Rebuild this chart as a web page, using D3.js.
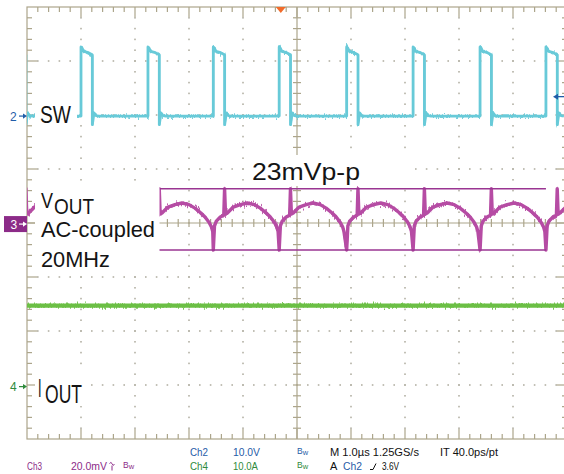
<!DOCTYPE html>
<html>
<head>
<meta charset="utf-8">
<script src="https://cdn.jsdelivr.net/npm/d3@7"></script>
<style>
  html, body { margin: 0; padding: 0; background: #fff; }
  svg { display: block; }
  text { font-family: "Liberation Sans Narrow", "Liberation Sans", Arial, sans-serif; }
</style>
</head>
<body>
<div id="scope"></div>
<script>
// SW rising edges (us from left of screen); the VOUT dips sit on the same instants
const riseTimes = [-0.23, 1.00, 2.24, 3.45, 4.67, 5.92, 7.15, 8.39, 9.61];

// one SW pulse, time relative to its rising edge (us) and volts
const swPulseT = [-0.03, 0.000, 0.000, 0.02, 0.05, 0.12, 0.20, 0.21, 0.21, 0.24, 0.28, 0.33];
const swPulseV = [0.0, 0.0, 12.8, 12.6, 12.0, 11.8, 11.4, 11.3, -1.6, 0.6, 0.1, 0.0];

// one VOUT ripple period, time relative to the dip (us) and mV (AC-coupled)
const voutT  = [0.000, 0.022, 0.056, 0.13, 0.194, 0.209, 0.226, 0.26, 0.37, 0.50, 0.63, 0.76, 0.87, 0.98, 1.056, 1.13, 1.176, 1.20];
const voutMv = [-9.6, -0.7, 1.1, 2.6, 3.3, 13.1, 3.7, 4.1, 6.3, 7.2, 7.8, 7.2, 5.9, 4.1, 2.6, 0.7, -1.1, -2.8];

// IOUT stays flat
const ioutT = [0, 10];
const ioutA = [15.0, 15.0];

// ripple envelope markers (mV) and where they run (us)
const rippleLevels = [13.1, -9.6];
const rippleSpan = [2.2, 9.61];

// trigger: position (us) and level on Ch2 (V)
const triggerTime = 4.70;
const triggerLevel = 3.6;

// channel scale (units per division) and ground marker position (divisions)
const ch2 = { perDiv: 10, offset: 1.98 };
const ch3 = { perDiv: 20, offset: -0.02 };
const ch4 = { perDiv: 10, offset: -3.03 };

const W = 564, H = 474;
const x = d3.scaleLinear().domain([0, 10]).range([27, 567]);
const y = d3.scaleLinear().domain([-4, 4]).range([439, 7]);
const yCh = (ch) => (v) => y(v / ch.perDiv + ch.offset);

const svg = d3.select("#scope").append("svg")
  .attr("width", W).attr("height", H);

const defs = svg.append("defs");
defs.append("clipPath").attr("id", "plot")
  .append("rect").attr("x", x(0)).attr("y", y(4))
  .attr("width", x(10) - x(0)).attr("height", y(-4) - y(4));

// small vertical jitter so the traces look like sampled scope data
function fuzz(id, scale, seed) {
  const f = defs.append("filter").attr("id", id)
    .attr("filterUnits", "userSpaceOnUse")
    .attr("x", 0).attr("y", 0).attr("width", W).attr("height", H)
    .attr("color-interpolation-filters", "sRGB");
  f.append("feTurbulence").attr("type", "fractalNoise")
    .attr("baseFrequency", "1.1 0.08").attr("numOctaves", 2)
    .attr("seed", seed).attr("result", "n");
  f.append("feColorMatrix").attr("in", "n").attr("type", "matrix")
    .attr("values", "0 0 0 0 0.5  0 1 0 0 0  0 0 0 0 0  0 0 0 0 1")
    .attr("result", "m");
  f.append("feDisplacementMap").attr("in", "SourceGraphic").attr("in2", "m")
    .attr("scale", scale).attr("xChannelSelector", "R").attr("yChannelSelector", "G");
}
fuzz("fz2", 9, 3);
fuzz("fz3", 13, 7);
fuzz("fz4", 10, 11);

// ---------- graticule ----------
const frameCol = "#aca58b";
const dotCol = "#b3b1a5";
const grid = svg.append("g");
const minorT = d3.range(0, 51).map((i) => i / 5);
const minorD = d3.range(-20, 21).map((i) => i / 5);

// dotted division lines
[-3, -2, -1, 1, 2, 3].forEach((d) => {
  grid.append("g").selectAll("rect")
    .data(minorT.slice(1, -1)).join("rect")
    .attr("x", (t) => x(t) - 0.8).attr("y", y(d) - 0.8)
    .attr("width", 1.6).attr("height", 1.6).attr("fill", dotCol);
});
[1, 2, 3, 4, 6, 7, 8, 9].forEach((t) => {
  grid.append("g").selectAll("rect")
    .data(minorD.slice(1, -1)).join("rect")
    .attr("x", x(t) - 0.8).attr("y", (d) => y(d) - 0.8)
    .attr("width", 1.6).attr("height", 1.6).attr("fill", dotCol);
});

// outer frame with ticks
grid.append("rect").attr("x", x(0)).attr("y", y(4))
  .attr("width", x(10) - x(0)).attr("height", y(-4) - y(4))
  .attr("fill", "none").attr("stroke", frameCol).attr("stroke-width", 1.2);
const isMajor = (v) => Math.abs(v - Math.round(v)) < 1e-6;
const tickLen = (v) => (isMajor(v) ? 10 : 5);
grid.append("g").selectAll("line").data(minorT.slice(1, -1)).join("line")
  .attr("x1", (t) => x(t)).attr("x2", (t) => x(t))
  .attr("y1", y(4)).attr("y2", (t) => y(4) + tickLen(t))
  .attr("stroke", frameCol).attr("stroke-width", 1.2);
grid.append("g").selectAll("line").data(minorT.slice(1, -1)).join("line")
  .attr("x1", (t) => x(t)).attr("x2", (t) => x(t))
  .attr("y1", y(-4)).attr("y2", (t) => y(-4) - tickLen(t))
  .attr("stroke", frameCol).attr("stroke-width", 1.2);
grid.append("g").selectAll("line").data(minorD.slice(1, -1)).join("line")
  .attr("x1", x(0)).attr("x2", (d) => x(0) + tickLen(d))
  .attr("y1", (d) => y(d)).attr("y2", (d) => y(d))
  .attr("stroke", frameCol).attr("stroke-width", 1.2);
grid.append("g").selectAll("line").data(minorD.slice(1, -1)).join("line")
  .attr("x1", x(10)).attr("x2", (d) => x(10) - tickLen(d))
  .attr("y1", (d) => y(d)).attr("y2", (d) => y(d))
  .attr("stroke", frameCol).attr("stroke-width", 1.2);

// centre cross with ticks on both sides
grid.append("line").attr("x1", x(5)).attr("x2", x(5)).attr("y1", y(4)).attr("y2", y(-4))
  .attr("stroke", frameCol).attr("stroke-width", 1.2);
grid.append("line").attr("x1", x(0)).attr("x2", x(10)).attr("y1", y(0)).attr("y2", y(0))
  .attr("stroke", frameCol).attr("stroke-width", 1.2);
grid.append("g").selectAll("line").data(minorD.slice(1, -1)).join("line")
  .attr("x1", x(5) - 4).attr("x2", x(5) + 4)
  .attr("y1", (d) => y(d)).attr("y2", (d) => y(d))
  .attr("stroke", frameCol).attr("stroke-width", 1.2);
grid.append("g").selectAll("line").data(minorT.slice(1, -1)).join("line")
  .attr("x1", (t) => x(t)).attr("x2", (t) => x(t))
  .attr("y1", y(0) - 4).attr("y2", y(0) + 4)
  .attr("stroke", frameCol).attr("stroke-width", 1.2);

// ---------- traces ----------
const swPts = [];
riseTimes.forEach((r) => swPulseT.forEach((t, i) => swPts.push([r + t, swPulseV[i]])));
const voutPts = [];
riseTimes.forEach((r) => voutT.forEach((t, i) => voutPts.push([r + t, voutMv[i]])));
const ioutPts = ioutT.map((t, i) => [t, ioutA[i]]);

const traces = svg.append("g").attr("clip-path", "url(#plot)");

// solid core plus a jittered copy on top for the noisy band
function trace(pts, yf, col, w, fid, fw) {
  const d = d3.line().x((p) => x(p[0])).y((p) => yf(p[1]))(pts);
  traces.append("path").attr("d", d)
    .attr("fill", "none").attr("stroke", col).attr("stroke-width", w)
    .attr("stroke-linejoin", "round");
  traces.append("g").attr("filter", `url(#${fid})`)
    .append("path").attr("d", d)
    .attr("fill", "none").attr("stroke", col).attr("stroke-width", fw)
    .attr("stroke-linejoin", "round").attr("opacity", 0.9);
}
trace(ioutPts, yCh(ch4), "#6cbf45", 4.2, "fz4", 2.2);
trace(voutPts, yCh(ch3), "#b64ca4", 3.4, "fz3", 1.8);
trace(swPts, yCh(ch2), "#68cad8", 2.8, "fz2", 1.8);

// ripple envelope
const y3 = yCh(ch3);
svg.append("g").selectAll("line").data(rippleLevels).join("line")
  .attr("x1", x(rippleSpan[0])).attr("x2", x(rippleSpan[1]))
  .attr("y1", (v) => y3(v)).attr("y2", (v) => y3(v))
  .attr("stroke", "#9a3592").attr("stroke-width", 1.6);

// ---------- labels (white backed, like the scope annotations) ----------
const boxes = [[35, 100, 42, 30], [35, 183, 124.5, 88], [35, 368, 53, 38], [244, 155, 166, 31]];
svg.append("g").selectAll("rect").data(boxes).join("rect")
  .attr("x", (b) => b[0]).attr("y", (b) => b[1])
  .attr("width", (b) => b[2]).attr("height", (b) => b[3]).attr("fill", "#fff");

function label(s, px, py, size, len) {
  const t = svg.append("text").attr("x", px).attr("y", py)
    .attr("font-size", size).attr("fill", "#141414").text(s);
  if (len) t.attr("textLength", len).attr("lengthAdjust", "spacingAndGlyphs");
  return t;
}
function subLabel(main, sub, px, py, size, mainLen, subLen, gap, drop) {
  const t = svg.append("text").attr("x", px).attr("y", py)
    .attr("font-size", size).attr("fill", "#141414");
  t.append("tspan").attr("textLength", mainLen).attr("lengthAdjust", "spacingAndGlyphs").text(main);
  t.append("tspan").attr("dx", gap).attr("dy", drop)
    .attr("textLength", subLen).attr("lengthAdjust", "spacingAndGlyphs").text(sub);
}
label("SW", 40, 122.7, 23, 31);
subLabel("V", "OUT", 41, 207.5, 22, 12, 40, 1, 6.3);
label("AC-coupled", 41, 237.3, 21.5, 114);
label("20MHz", 41, 266.7, 21.5, 69);
label("23mVp-p", 252, 179.5, 23, 108);
subLabel("I", "OUT", 38, 396.7, 26, 3.5, 37, 3.5, 6);

// ---------- channel markers ----------
const blue = "#1f5ca8", purple = "#8c2b88", green = "#2f8a3c";
function arrowRight(g, yy, col) {
  g.append("line").attr("x1", 19).attr("x2", 25).attr("y1", yy).attr("y2", yy)
    .attr("stroke", col).attr("stroke-width", 1.2);
  g.append("path").attr("d", `M27,${yy} L23,${yy - 2.6} L23,${yy + 2.6} Z`).attr("fill", col);
}
const y2 = yCh(ch2), y4 = yCh(ch4);
const mk = svg.append("g");
mk.append("text").attr("x", 10).attr("y", y2(0) + 4.5).attr("font-size", 12)
  .attr("fill", blue).text("2");
arrowRight(mk, y2(0), blue);
mk.append("rect").attr("x", 4).attr("y", y3(0) - 8).attr("width", 23).attr("height", 16)
  .attr("fill", purple);
mk.append("text").attr("x", 10.5).attr("y", y3(0) + 4.5).attr("font-size", 12)
  .attr("fill", "#fff").text("3");
arrowRight(mk, y3(0), "#fff");
mk.append("text").attr("x", 10).attr("y", y4(0) + 4.5).attr("font-size", 12)
  .attr("fill", green).text("4");
arrowRight(mk, y4(0), green);

// trigger position and level
const ty = y2(triggerLevel);
mk.append("path")
  .attr("d", `M${x(triggerTime) - 5},${y(4)} L${x(triggerTime) + 5},${y(4)} L${x(triggerTime)},${y(4) + 6} Z`)
  .attr("fill", "#f26b2a");
mk.append("line").attr("x1", 557).attr("x2", 566).attr("y1", ty).attr("y2", ty)
  .attr("stroke", blue).attr("stroke-width", 1.3);
mk.append("path").attr("d", `M553,${ty} L558,${ty - 3} L558,${ty + 3} Z`).attr("fill", blue);

// ---------- readout ----------
const ro = svg.append("g").attr("font-size", 11);
function rd(s, px, py, col, len) {
  const t = ro.append("text").attr("x", px).attr("y", py).attr("fill", col).text(s);
  if (len) t.attr("textLength", len).attr("lengthAdjust", "spacingAndGlyphs");
  return t;
}
function bw(px, py, col) {
  const t = ro.append("text").attr("x", px).attr("y", py).attr("fill", col);
  t.append("tspan").attr("font-size", 8.5).text("B");
  t.append("tspan").attr("font-size", 7.5).attr("dy", 1.2).text("w");
}
const r1 = 456, r2 = 469.5;
rd("Ch2", 190, r1, blue, 18);
rd("10.0V", 233, r1, blue, 27);
bw(297, r1 - 2, blue);
rd("M 1.0\u00b5s 1.25GS/s", 330, r1, "#111", 89);
rd("IT 40.0ps/pt", 440, r1, "#111", 58);
rd("Ch3", 27, r2, purple, 15);
rd("20.0mV", 71, r2, purple, 36);
ro.append("path").attr("d", `M109.5,${r2 - 6} q1.5,-2 2.5,0 q1,3 2.5,1 M112,${r2 - 4} v5`)
  .attr("fill", "none").attr("stroke", purple).attr("stroke-width", 1);
bw(123, r2 - 2, purple);
rd("Ch4", 190, r2, green, 18);
rd("10.0A", 233, r2, green, 25);
bw(297, r2 - 2, green);
rd("A", 330, r2, "#111");
rd("Ch2", 343, r2, blue, 19);
ro.append("path").attr("d", `M370,${r2} L373,${r2} L376,${r2 - 6}`)
  .attr("fill", "none").attr("stroke", "#111").attr("stroke-width", 1);
rd("3.6V", 382, r2, "#111", 17);
</script>
</body>
</html>
